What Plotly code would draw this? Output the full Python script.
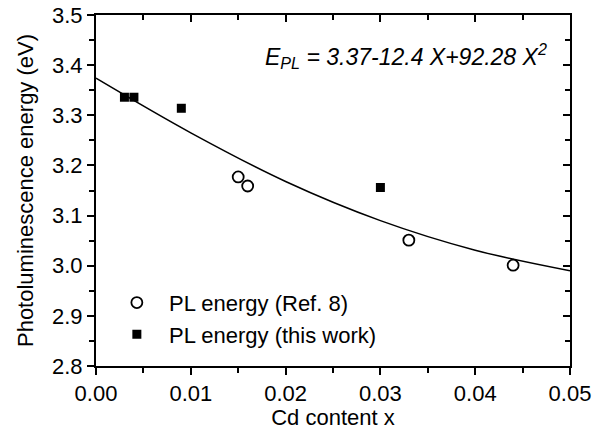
import plotly.graph_objects as go

# Data
ref_x = [0.015, 0.016, 0.033, 0.044]
ref_y = [3.177, 3.159, 3.051, 3.001]
work_x = [0.003, 0.004, 0.009, 0.030]
work_y = [3.336, 3.336, 3.314, 3.156]
fit_x = [0.0, 0.01, 0.02, 0.03, 0.04, 0.05]
fit_y = [3.374, 3.265, 3.168, 3.090, 3.031, 2.990]
x_ticks = [0.0, 0.01, 0.02, 0.03, 0.04, 0.05]
x_labels = ["0.00", "0.01", "0.02", "0.03", "0.04", "0.05"]
y_ticks = [2.8, 2.9, 3.0, 3.1, 3.2, 3.3, 3.4, 3.5]
y_labels = ["2.8", "2.9", "3.0", "3.1", "3.2", "3.3", "3.4", "3.5"]

FONT = "Liberation Sans, Arial, sans-serif"
NB = "\u00a0\u00a0"

fig = go.Figure()
fig.add_trace(go.Scatter(x=fit_x, y=fit_y, mode="lines", line=dict(color="black", width=1.5, shape="spline"),
                         showlegend=False))
fig.add_trace(go.Scatter(x=ref_x, y=ref_y, mode="markers", name=NB + "PL energy (Ref. 8)",
                         marker=dict(symbol="circle-open", size=11, color="black", line=dict(width=1.8))))
fig.add_trace(go.Scatter(x=work_x, y=work_y, mode="markers", name=NB + "PL energy (this work)",
                         marker=dict(symbol="square", size=9, color="black")))
fig.add_trace(go.Scatter(x=[0], y=[3.0], xaxis="x2", yaxis="y2", mode="markers",
                         marker=dict(opacity=0), showlegend=False, hoverinfo="skip"))

axis_common = dict(showline=True, linecolor="black", linewidth=2, showgrid=False, zeroline=False,
                   tickcolor="black", tickwidth=1.5, ticklen=7, automargin=False)
minor_out = dict(ticks="outside", ticklen=5, tickcolor="black", tickwidth=1.5)
minor_in = dict(ticks="inside", ticklen=5, tickcolor="black", tickwidth=1.5)
XR = [0, 0.05]
YR = [2.8, 3.5]

fig.update_layout(
    width=601, height=430,
    margin=dict(l=96, r=31, t=15, b=64),
    paper_bgcolor="white", plot_bgcolor="white",
    font=dict(family=FONT, size=22, color="black"),
    xaxis=dict(range=XR, tickvals=x_ticks, ticktext=x_labels, ticks="outside",
               minor=dict(dtick=0.005, tick0=0, **minor_out),
               title=dict(text="Cd content x", standoff=0, font=dict(size=22)), **axis_common),
    yaxis=dict(range=YR, tickvals=y_ticks, ticktext=y_labels, ticks="outside",
               minor=dict(dtick=0.05, tick0=2.8, **minor_out),
               title=dict(text="Photoluminescence energy (eV)", standoff=12, font=dict(size=22)), **axis_common),
    xaxis2=dict(range=XR, tickvals=x_ticks, overlaying="x", side="top", ticks="inside",
                showticklabels=False, minor=dict(dtick=0.005, tick0=0, **minor_in), **axis_common),
    yaxis2=dict(range=YR, tickvals=y_ticks, overlaying="y", side="right", ticks="inside",
                showticklabels=False, minor=dict(dtick=0.05, tick0=2.8, **minor_in), **axis_common),
    legend=dict(x=0.044, y=0.24, xanchor="left", yanchor="top", bgcolor="rgba(0,0,0,0)",
                font=dict(size=22), itemwidth=30),
    annotations=[dict(x=0.0176, y=3.418, xref="x", yref="y", xanchor="left", yanchor="middle",
                      showarrow=False, font=dict(size=23),
                      text="<i>E<sub>PL</sub> = 3.37-12.4 X+92.28 X<sup>2</sup></i>")],
)

fig.write_html("out.html", config={"displayModeBar": False},
               post_script="document.body.style.margin='0';")
